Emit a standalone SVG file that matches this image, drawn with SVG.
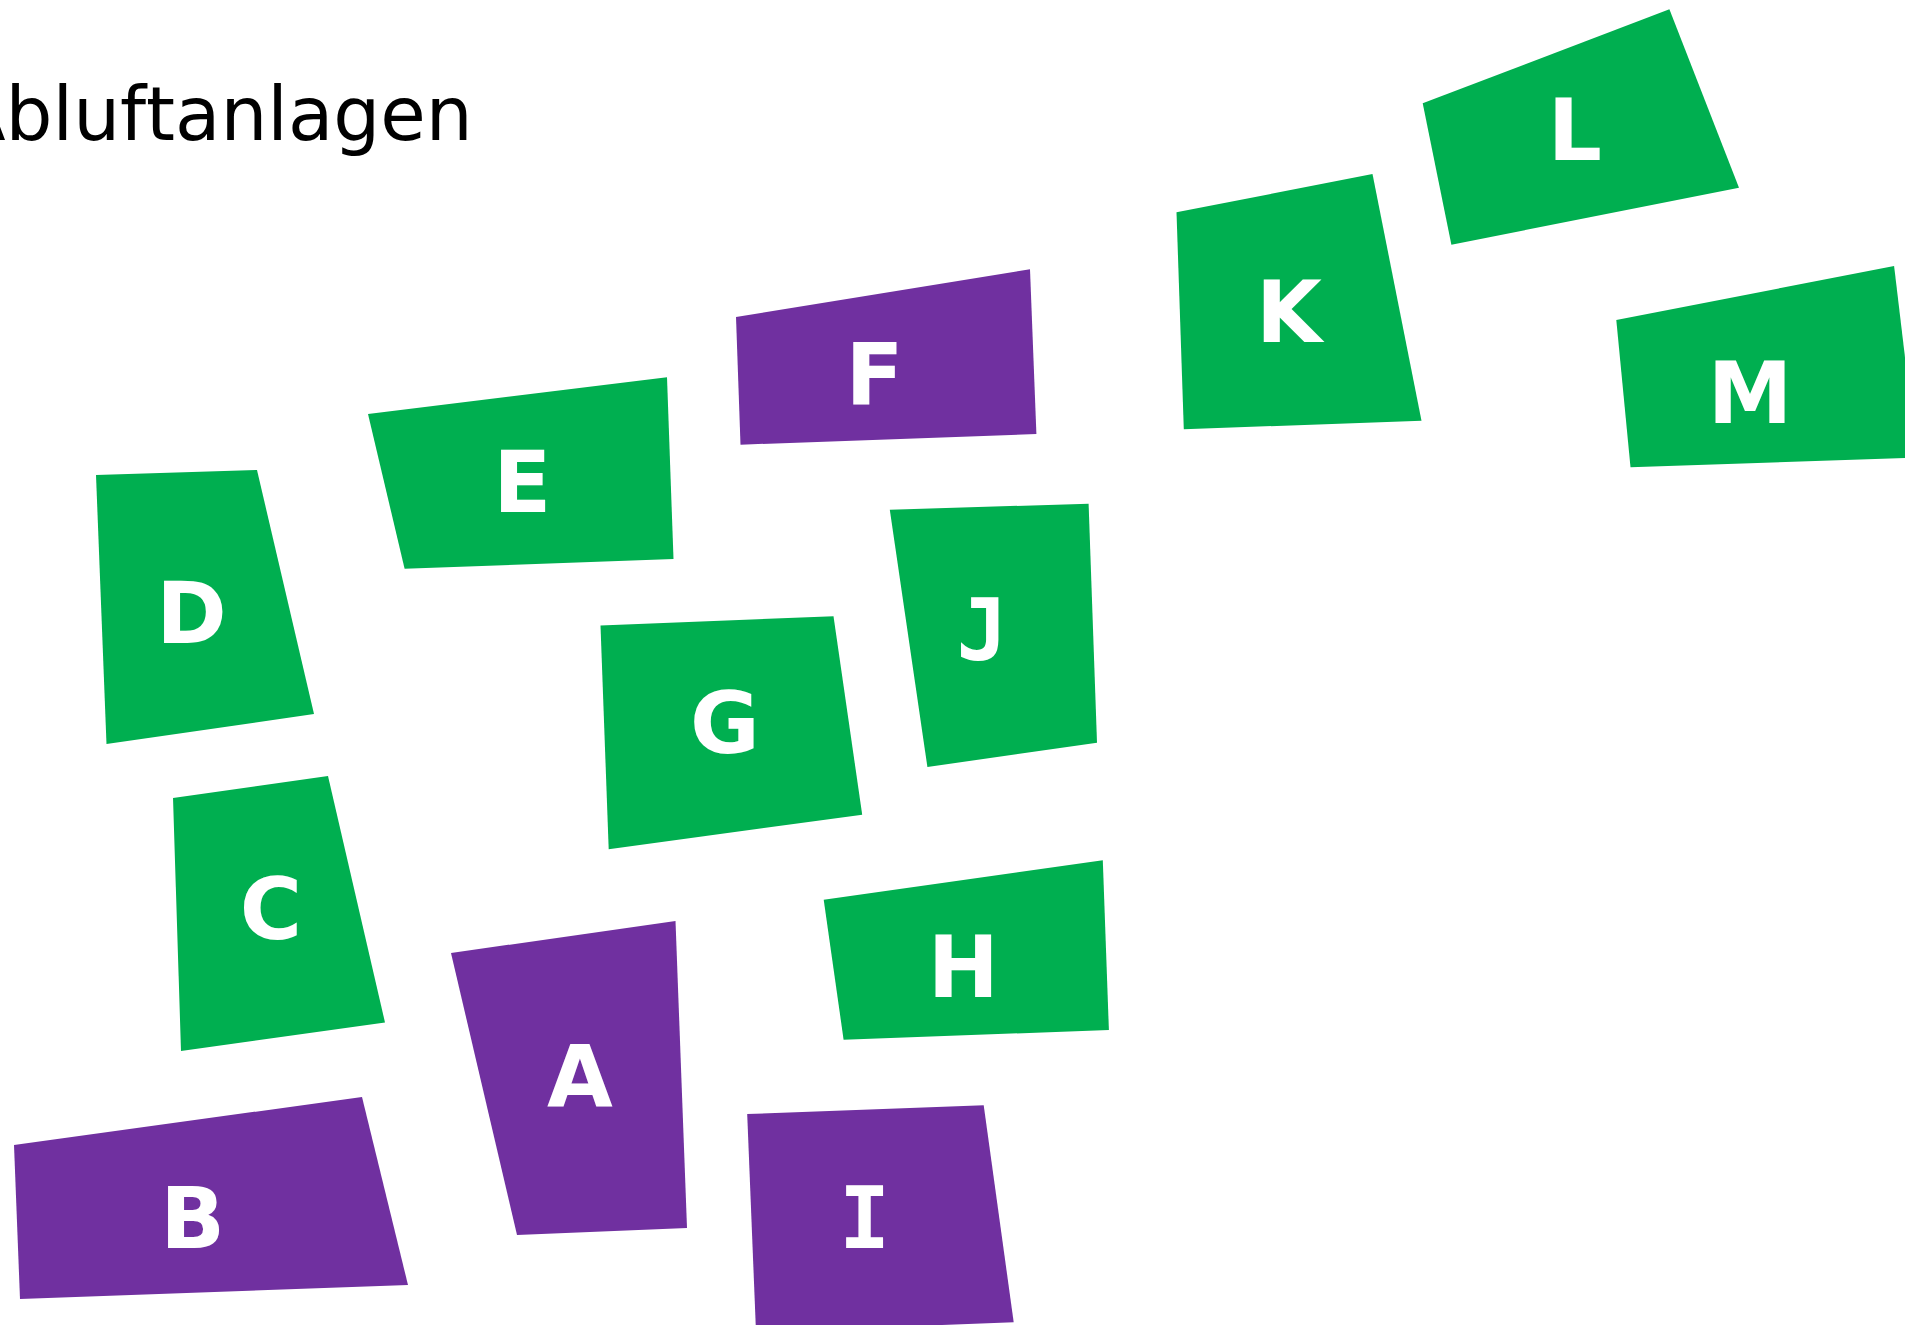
<svg xmlns="http://www.w3.org/2000/svg" width="1905" height="1325" viewBox="0 0 1905 1325">
<style>
.g{fill:#00AF50}
.p{fill:#7030A0}
.t{font-family:"DejaVu Sans","Verdana",sans-serif;font-weight:bold;font-size:85px;fill:#fff}
.m{font-family:"DejaVu Sans Mono",monospace;font-weight:bold;font-size:85px;fill:#fff}
.title{font-family:"DejaVu Sans","Verdana",sans-serif;font-size:74px;fill:#000;font-variant-ligatures:none;font-kerning:none}
</style>
<rect width="1905" height="1325" fill="#fff"/>
<text class="title" x="-45" y="140">Abluftanlagen</text>
<g id="connectors"></g>
<g id="node-A"><polygon class="p" points="451,953 675.5,921 687,1228 517,1235"/><text class="t" x="580" y="1106" text-anchor="middle">A</text></g>
<g id="node-B"><polygon class="p" points="14,1145 362,1097 408,1285 20,1299"/><text class="t" x="160.3" y="1248">B</text></g>
<g id="node-C"><polygon class="g" points="173,798 328,776 385,1022.5 181,1051"/><text class="t" x="271" y="939" text-anchor="middle">C</text></g>
<g id="node-D"><polygon class="g" points="96,475 257,470 314,714 106.5,744"/><text class="t" x="156.3" y="643">D</text></g>
<g id="node-E"><polygon class="g" points="368,414 667,377.3 673.5,559 404.6,568.7"/><text class="t" x="493.3" y="512.3">E</text></g>
<g id="node-F"><polygon class="p" points="736,317 1030,269.3 1036.4,434 740.5,444.7"/><text class="t" x="845.6" y="403.7">F</text></g>
<g id="node-G"><polygon class="g" points="600.5,625.5 833.5,616.3 862.2,814.7 608.7,849.2"/><text class="t" x="725" y="753" text-anchor="middle">G</text></g>
<g id="node-H"><polygon class="g" points="823.7,899.7 1102.8,860.3 1108.9,1030 843.6,1039.7"/><text class="t" x="927.8" y="997">H</text></g>
<g id="node-I"><polygon class="p" points="747.2,1114 983.7,1105.3 1013.7,1322.3 756,1332"/><text class="m" x="864.5" y="1248.3" text-anchor="middle">I</text></g>
<g id="node-J"><polygon class="g" points="889.8,509.7 1088.6,503.7 1097,742.7 927.4,767"/><text class="m" x="982" y="660" text-anchor="middle">J</text></g>
<g id="node-K"><polygon class="g" points="1176.5,212.3 1372.5,174 1421.5,420.7 1183.8,429.3"/><text class="t" x="1255.9" y="342.3">K</text></g>
<g id="node-L"><polygon class="g" points="1422.7,103.3 1669.4,9.3 1739,187.7 1451.4,244.7"/><text class="t" x="1547.8" y="160">L</text></g>
<g id="node-M"><polygon class="g" points="1616.3,320 1894.1,266 1917,457.6 1630.5,467.3"/><text class="t" x="1707.8" y="423.3">M</text></g>
</svg>
